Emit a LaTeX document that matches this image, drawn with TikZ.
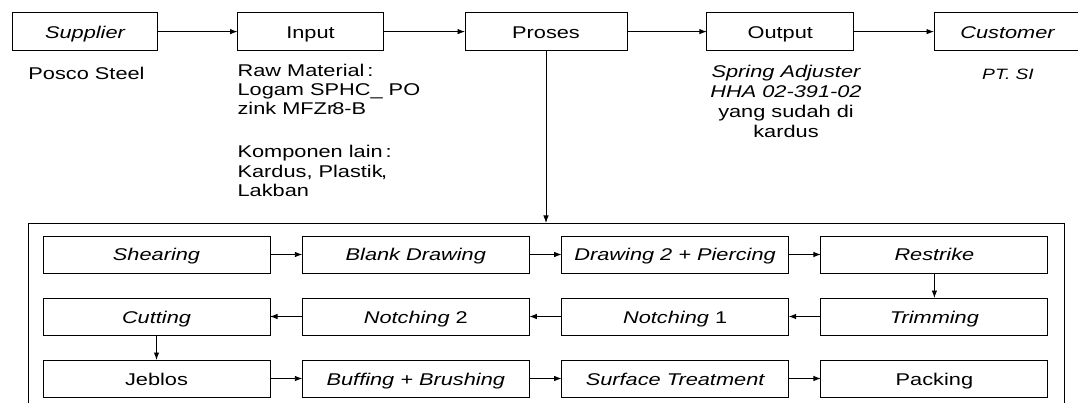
\documentclass[tikz,border=0pt]{standalone}
\usepackage{fontspec}
\setmainfont{Liberation Sans}[FakeStretch=1.28]
\usetikzlibrary{arrows.meta}
\begin{document}
\begin{tikzpicture}[x=1pt,y=-1pt,
  every node/.style={inner sep=0pt, outer sep=0pt},
  txt/.style={font=\fontsize{17}{19.3}\selectfont},
  topbox/.style={draw, line width=0.9pt, minimum height=38pt, txt,
                 text height=13pt, text depth=0pt},
  proc/.style={draw, line width=0.9pt, minimum width=227pt, minimum height=37pt,
               txt, text height=13pt, text depth=0pt},
  arr/.style={line width=0.9pt, -{Latex[length=7.5pt,width=5.5pt]}},
]
\useasboundingbox (0,0) rectangle (1078,403);

% main chain
\node[topbox, minimum width=145pt] (supplier) at (85,31.6)   {\itshape Supplier};
\node[topbox, minimum width=146pt] (input)    at (310.5,31.6) {Input};
\node[topbox, minimum width=162pt] (proses)   at (546,31.6)  {Proses};
\node[topbox, minimum width=147pt] (output)   at (780.3,31.6) {Output};
\node[topbox, minimum width=147pt] (customer) at (1007.5,31.6) {\itshape Customer};

\draw[arr] (supplier) -- (input);
\draw[arr] (input) -- (proses);
\draw[arr] (proses) -- (output);
\draw[arr] (output) -- (customer);

% notes under the chain
\node[txt, anchor=base] (posco) at (86.5,79.4) {Posco Steel};
\node[txt, anchor=north west, align=left] (raw) at (237.6,63.9)
  {Raw Material\,:\\Logam SPHC\_ PO\\zink MFZr\kern-2pt 8-B};
\node[txt, anchor=north west, align=left] (komp) at (237.6,145.6)
  {Komponen lain\,:\\Kardus, Plastik\kern-1.5pt,\\Lakban};
\node[anchor=north, align=center, font=\fontsize{17}{20}\selectfont] (spring) at (786,65.3)
  {{\itshape Spring Adjuster}\\{\itshape HHA 02-391-02}\\yang sudah di\\kardus};
\node[anchor=base, font=\fontsize{15}{18}\selectfont\itshape] (ptsi) at (1008,80) {PT. SI};

% process frame
\node[draw, line width=0.9pt, minimum width=1035.5pt, minimum height=200pt] (frame) at (546.25,323) {};
\draw[arr] (proses) -- (proses |- frame.north);

% process steps
\node[proc] (shear)    at (156.5,254.5) {\itshape Shearing};
\node[proc] (blank)    at (415.8,254.5) {\itshape Blank Drawing};
\node[proc] (pierce)   at (675.1,254.5) {\itshape Drawing 2 + Piercing};
\node[proc] (restrike) at (934.4,254.5) {\itshape Restrike};

\node[proc] (cutting)  at (156.5,316.5) {\itshape Cutting};
\node[proc] (notchtwo) at (415.8,316.5) {{\itshape Notching} 2};
\node[proc] (notchone) at (675.1,316.5) {{\itshape Notching} 1};
\node[proc] (trim)     at (934.4,316.5) {\itshape Trimming};

\node[proc] (jeblos)   at (156.5,378.5) {Jeblos};
\node[proc] (buff)     at (415.8,378.5) {\itshape Buffing + Brushing};
\node[proc] (surface)  at (675.1,378.5) {\itshape Surface Treatment};
\node[proc] (packing)  at (934.4,378.5) {Packing};

\draw[arr] (shear) -- (blank);
\draw[arr] (blank) -- (pierce);
\draw[arr] (pierce) -- (restrike);
\draw[arr] (restrike) -- (trim);
\draw[arr] (trim) -- (notchone);
\draw[arr] (notchone) -- (notchtwo);
\draw[arr] (notchtwo) -- (cutting);
\draw[arr] (cutting) -- (jeblos);
\draw[arr] (jeblos) -- (buff);
\draw[arr] (buff) -- (surface);
\draw[arr] (surface) -- (packing);
\end{tikzpicture}
\end{document}
